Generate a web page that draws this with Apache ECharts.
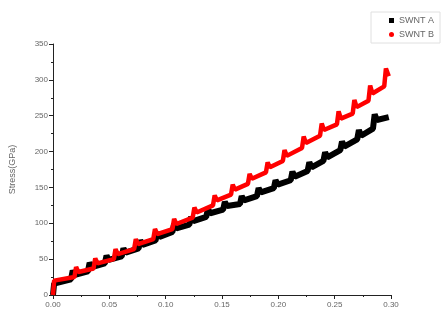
<!DOCTYPE html>
<html><head><meta charset="utf-8">
<script src="https://cdn.jsdelivr.net/npm/echarts@6/dist/echarts.min.js"></script>
<style>html,body{margin:0;padding:0;background:#fff}#c{width:444px;height:322px}</style>
</head><body><div id="c"></div>
<script>
var seriesNames = ['SWNT A', 'SWNT B'];
var xTicks = ['0.00','0.05','0.10','0.15','0.20','0.25','0.30'];
var strainA = [0,0.001,0.016,0.0175,0.0195,0.031,0.0325,0.0345,0.046,0.0475,0.0495,0.061,0.0625,0.0645,0.076,0.0775,0.0795,0.091,0.0925,0.0945,0.106,0.1075,0.1095,0.121,0.1225,0.1245,0.136,0.1375,0.1395,0.151,0.1525,0.1545,0.166,0.1675,0.1695,0.181,0.1825,0.1845,0.196,0.1975,0.1995,0.211,0.2125,0.2145,0.226,0.2275,0.2295,0.240,0.2415,0.2435,0.255,0.2565,0.2585,0.270,0.2715,0.2735,0.284,0.2855,0.2875,0.298];
var stressA = [0,16,22,34,28,33,45,39,44,55,49,54,65,59,65,76,70,76,87,81,88,99,93,98,109,103,109,120,114,119,130,124,127,138,132,138,149,143,149,160,154,160,172,165,173,185,178,187,199,192,202,214,207,217,230,222,232,252,244,248];
var strainB = [0,0.001,0.019,0.0205,0.0225,0.036,0.0375,0.0395,0.054,0.0555,0.0575,0.072,0.0735,0.0755,0.089,0.0905,0.0925,0.106,0.1075,0.1095,0.124,0.1255,0.1275,0.142,0.1435,0.1455,0.158,0.1595,0.1615,0.173,0.1745,0.1765,0.189,0.1905,0.1925,0.204,0.2055,0.2075,0.221,0.2225,0.2245,0.237,0.2385,0.2405,0.252,0.2535,0.2555,0.266,0.2675,0.2695,0.280,0.2815,0.2835,0.294,0.2955,0.298];
var stressB = [0,20,25,39,32,37,51,44,50,64,57,64,78,71,78,92,85,92,106,99,108,122,115,125,139,132,140,154,147,155,169,162,171,185,178,187,202,194,205,221,212,222,239,230,238,256,246,253,272,262,271,292,281,291,316,305];
function pairs(xs, ys){ return xs.map(function(x,i){return [x, ys[i]];}); }
var chart = echarts.init(document.getElementById('c'));
var font = 'Liberation Sans, Arial, sans-serif';
chart.setOption({
  animation:false,
  backgroundColor:'#fff',
  grid:{left:52,right:53,top:44,bottom:27,containLabel:false},
  legend:{
    orient:'vertical', right:4, top:12, itemWidth:5, itemHeight:5, itemGap:5,
    borderColor:'#e0e0e0', borderWidth:1, padding:[4,6,4,18],
    textStyle:{fontFamily:font, fontSize:9, color:'#666'},
    data:[{name:seriesNames[0], icon:'rect'},{name:seriesNames[1], icon:'circle'}]
  },
  xAxis:{
    type:'value', min:0, max:0.30, interval:0.05,
    axisLine:{lineStyle:{color:'#222',width:1}},
    axisTick:{length:4,lineStyle:{color:'#222'}},
    minorTick:{show:true,splitNumber:2,length:2,lineStyle:{color:'#222'}},
    splitLine:{show:false},
    axisLabel:{fontFamily:font,fontSize:8,color:'#666',margin:6,formatter:function(v){return xTicks[Math.round(v/0.05)];}}
  },
  yAxis:{
    type:'value', min:0, max:350, interval:50,
    name:'Stress(GPa)', nameLocation:'middle', nameGap:36,
    nameTextStyle:{fontFamily:font,fontSize:9,color:'#666'},
    axisLine:{show:true,lineStyle:{color:'#222',width:1}},
    axisTick:{show:true,length:4,lineStyle:{color:'#222'}},
    minorTick:{show:true,splitNumber:2,length:2,lineStyle:{color:'#222'}},
    splitLine:{show:false},
    axisLabel:{fontFamily:font,fontSize:8,color:'#666',margin:5}
  },
  series:[
    {name:seriesNames[0],type:'line',data:pairs(strainA,stressA),showSymbol:false,symbol:'rect',
     lineStyle:{color:'#000',width:6},itemStyle:{color:'#000'}},
    {name:seriesNames[1],type:'line',data:pairs(strainB,stressB),showSymbol:false,symbol:'circle',
     lineStyle:{color:'#f00',width:4.5},itemStyle:{color:'#f00'}}
  ]
});
</script></body></html>
